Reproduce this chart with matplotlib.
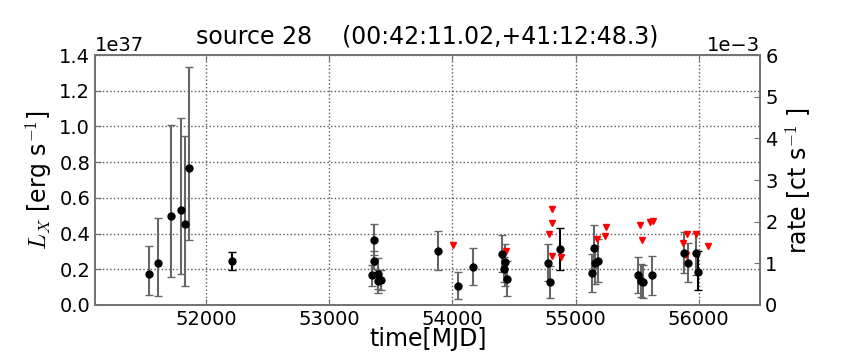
import numpy as np
import matplotlib
matplotlib.use('Agg')
import matplotlib.pyplot as plt

# detections: MJD, L_X and its lower / upper bound (units of 1e37 erg/s)
t_det = [51535, 51608, 51714, 51795, 51830, 51862, 52211,
         53344, 53363, 53366, 53398, 53400, 53419, 53887, 54046, 54168,
         54406, 54417, 54428, 54447, 54776, 54795, 54874,
         55130, 55146, 55160, 55179, 55509, 55530, 55550, 55617,
         55877, 55912, 55980, 55993]
lx_det = [0.176, 0.235, 0.50, 0.53, 0.452, 0.765, 0.248,
          0.165, 0.365, 0.246, 0.176, 0.133, 0.139, 0.30, 0.107, 0.215,
          0.283, 0.20, 0.239, 0.144, 0.233, 0.128, 0.311,
          0.178, 0.318, 0.233, 0.244, 0.167, 0.135, 0.13, 0.165,
          0.29, 0.235, 0.29, 0.185]
lx_lo = [0.054, 0.05, 0.154, 0.172, 0.106, 0.361, 0.198,
         0.104, 0.28, 0.20, 0.089, 0.065, 0.081, 0.194, 0.033, 0.113,
         0.182, 0.13, 0.104, 0.052, 0.135, 0.039, 0.196,
         0.07, 0.206, 0.117, 0.126, 0.067, 0.043, 0.037, 0.056,
         0.178, 0.128, 0.17, 0.081]
lx_hi = [0.33, 0.485, 1.007, 1.048, 0.948, 1.335, 0.298,
         0.226, 0.452, 0.30, 0.263, 0.196, 0.196, 0.413, 0.187, 0.32,
         0.393, 0.27, 0.343, 0.244, 0.343, 0.219, 0.431,
         0.287, 0.446, 0.33, 0.37, 0.268, 0.23, 0.222, 0.274,
         0.409, 0.348, 0.404, 0.30]
dark = [52211, 54874, 55993]

# upper limits
t_ul = [54006, 54439, 54782, 54811, 54811, 54813, 54882,
        55171, 55238, 55249, 55520, 55539, 55601, 55628,
        55869, 55901, 55895, 55974, 56074]
lx_ul = [0.337, 0.30, 0.40, 0.539, 0.459, 0.276, 0.268,
         0.37, 0.389, 0.439, 0.446, 0.365, 0.465, 0.468,
         0.346, 0.398, 0.281, 0.398, 0.329]

scale = 1e37
t = np.array(t_det)
y = np.array(lx_det) * scale
lo = y - np.array(lx_lo) * scale
hi = np.array(lx_hi) * scale - y

plt.rcParams['font.size'] = 14
plt.rcParams['mathtext.fontset'] = 'cm'

fig = plt.figure(figsize=(8.64, 3.6), dpi=100)
ax = fig.add_axes([0.110, 0.153, 0.770, 0.694])

for i in range(len(t)):
    c = 'k' if t_det[i] in dark else '0.4'
    ax.errorbar(t[i], y[i], yerr=[[lo[i]], [hi[i]]], fmt='o', color='k',
                ecolor=c, ms=5, capsize=3, elinewidth=1.5, capthick=1)
ax.plot(t_ul, np.array(lx_ul) * scale, 'v', color='red', ms=4.5, mec='red')

ax.set_xlim(51100, 56500)
ax.set_ylim(0, 1.4e37)
ax.set_xticks([52000, 53000, 54000, 55000, 56000])
ax.set_yticks(np.arange(0, 1.41, 0.2) * scale)
ax.grid(True, color='0.35', linestyle=':', linewidth=1)
ax.tick_params(direction='in', top=True, length=4, color='0.45')
ax.set_xlabel('time[MJD]', fontsize=17, labelpad=-1)
ax.set_ylabel(r'$L_X$ [erg s$^{-1}$]', fontsize=17, labelpad=4)
ax.set_title('source 28    (00:42:11.02,+41:12:48.3)', fontsize=17, pad=8)
for s in ax.spines.values():
    s.set_color('0.45')
    s.set_linewidth(1.3)

ax2 = ax.twinx()
ax2.set_ylim(0, 0.006)
ax2.set_yticks(np.arange(0, 0.0061, 0.001))
ax2.ticklabel_format(axis='y', style='sci', scilimits=(-2, 2))
ax2.tick_params(direction='in', length=4, color='0.45')
ax2.set_ylabel(r'rate [ct s$^{-1}$ ]', fontsize=17)
for s in ax2.spines.values():
    s.set_color('0.45')
    s.set_linewidth(1.3)

fig.savefig('out.png', dpi=100)
